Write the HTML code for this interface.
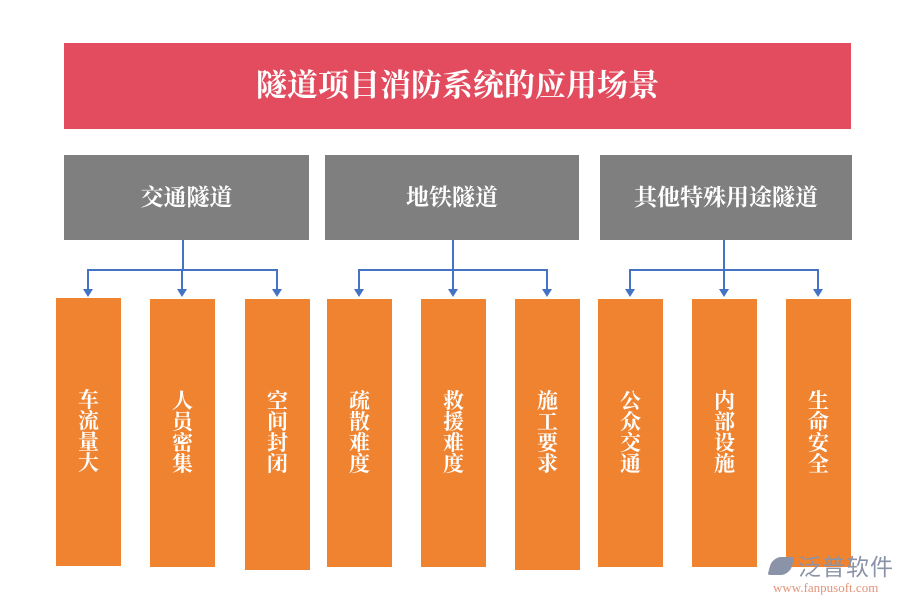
<!DOCTYPE html>
<html><head><meta charset="utf-8"><style>
body{margin:0;width:900px;height:600px;background:#fff;position:relative;overflow:hidden;font-family:"Liberation Serif","Noto Serif CJK SC",serif;}
.t{position:absolute;left:64px;top:43px;width:787px;height:86px;background:#e34b5e;color:#fff;font-size:31px;font-weight:bold;line-height:86px;text-align:center;}
.g{position:absolute;top:155px;height:85px;background:#7f7f7f;color:#fff;font-size:23px;font-weight:bold;line-height:85px;text-align:center;}
.o{position:absolute;top:299px;width:65px;height:268px;background:#ef8330;color:#fff;font-size:21px;font-weight:bold;}
.o span{position:absolute;left:0;right:0;top:92px;text-align:center;line-height:21px;width:21px;margin:0 auto;}
.wm{position:absolute;left:798px;top:552px;font-family:"Noto Sans CJK SC",sans-serif;font-size:23px;color:#8a93a8;line-height:26px;letter-spacing:1px;}
.wm2{position:absolute;left:773px;top:580px;font-size:13px;color:#e0957a;}
.logo{position:absolute;left:770px;top:557px;width:22px;height:18px;background:#8a93a8;border-radius:9px 2px 9px 2px;transform:skewX(-15deg);}
</style></head><body>
<div class="t">隧道项目消防系统的应用场景</div>
<div class="g" style="left:64px;width:245px">交通隧道</div>
<div class="g" style="left:325px;width:254px">地铁隧道</div>
<div class="g" style="left:600px;width:252px">其他特殊用途隧道</div>
<svg style="position:absolute;left:0;top:0" width="900" height="600">
<g stroke="#4472c4" stroke-width="2" fill="none">
<path d="M183 240V270M88 290V270H277V290M182 270V290"/>
<path d="M453 240V270M359 290V270H547V290M453 270V290"/>
<path d="M724 240V270M630 290V270H818V290M724 270V290"/>
</g>
<g fill="#4472c4">
<path d="M83 289h10l-5 8z"/><path d="M177 289h10l-5 8z"/><path d="M272 289h10l-5 8z"/>
<path d="M354 289h10l-5 8z"/><path d="M448 289h10l-5 8z"/><path d="M542 289h10l-5 8z"/>
<path d="M625 289h10l-5 8z"/><path d="M719 289h10l-5 8z"/><path d="M813 289h10l-5 8z"/>
</g>
</svg>
<div class="o" style="left:56px;top:298px;height:268px"><span>车流量大</span></div>
<div class="o" style="left:150px"><span>人员密集</span></div>
<div class="o" style="left:245px;height:271px"><span>空间封闭</span></div>
<div class="o" style="left:327px"><span>疏散难度</span></div>
<div class="o" style="left:421px"><span>救援难度</span></div>
<div class="o" style="left:515px;height:271px"><span>施工要求</span></div>
<div class="o" style="left:598px"><span>公众交通</span></div>
<div class="o" style="left:692px"><span>内部设施</span></div>
<div class="o" style="left:786px"><span>生命安全</span></div>
<div class="logo"></div>
<div class="wm">泛普软件</div>
<div class="wm2">www.fanpusoft.com</div>
</body></html>
